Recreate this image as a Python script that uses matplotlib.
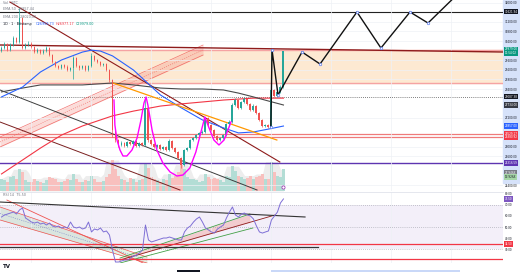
import numpy as np
import pandas as pd
import matplotlib
matplotlib.use("Agg")
import matplotlib.pyplot as plt
from matplotlib.patches import Rectangle
from matplotlib.transforms import blended_transform_factory

# ---- candles (BTC/USD, values) ----
closes = [30110, 30280, 30030, 30230, 30530, 30360, 31360, 30110, 30230, 30280,
          30150, 29940, 30030, 29900, 29980, 30110, 29820, 29530, 29360, 29280,
          29400, 29320, 29190, 29280, 29690, 29360, 29280, 29360, 29190, 29360,
          29780, 29610, 29530, 29400, 29440, 29190, 28780, 26690, 26280, 26070,
          26150, 26030, 26190, 26110, 26230, 26030, 26150, 26070, 27610, 26280,
          26110, 25980, 26070, 25900, 25980, 25860, 26230, 25940, 25780, 25530,
          25230, 25860, 25940, 26280, 26360, 26480, 26570, 26610, 27190, 26900,
          26690, 26440, 26280, 26360, 26480, 26940, 27030, 27730, 27940, 27610,
          27860, 27980, 27780, 27530, 27690, 27400, 27110, 26860, 26900, 26820,
          28360, 28110, 28280, 28480, 29979]
highs = [30200, 30350, 30330, 30300, 30600, 30580, 31780, 31420, 30300, 30380,
         30340, 30200, 30100, 30080, 30050, 30180, 30150, 29860, 29580, 29420,
         29460, 29450, 29380, 29330, 29780, 29720, 29400, 29420, 29400, 29400,
         29900, 29820, 29660, 29570, 29500, 29480, 29220, 28800, 26750, 26320,
         26220, 26200, 26250, 26240, 26290, 26260, 26200, 26190, 28070, 27650,
         26320, 26150, 26120, 26100, 26030, 26020, 26300, 26260, 25980, 25820,
         25560, 25920, 26000, 26330, 26420, 26530, 26620, 26680, 27250, 27230,
         26940, 26730, 26480, 26420, 26540, 27000, 27100, 27800, 28020, 27980,
         27920, 28050, 28010, 27820, 27760, 27720, 27440, 27150, 26960, 26950,
         30030, 28400, 28330, 28550, 30000]
lows = [29950, 30060, 29980, 29990, 30200, 30300, 30330, 30050, 30060, 30180,
        30100, 29880, 29900, 29850, 29860, 29950, 29780, 29480, 29300, 29220,
        29240, 29260, 29140, 29150, 28800, 29300, 29200, 29240, 29150, 29150,
        29330, 29560, 29480, 29350, 29360, 29150, 28700, 26400, 26200, 26000,
        26020, 25980, 25990, 26060, 26080, 25980, 25990, 26020, 26030, 26200,
        26050, 25930, 25940, 25850, 25860, 25800, 25820, 25900, 25720, 25480,
        25110, 25200, 25800, 25900, 26230, 26320, 26440, 26520, 26580, 26850,
        26640, 26400, 26230, 26240, 26320, 26450, 26900, 27000, 27700, 27560,
        27580, 27820, 27730, 27480, 27500, 27350, 27060, 26800, 26800, 26780,
        26800, 28050, 28080, 28250, 28450]
first_open = 30000
volume = [40, 35, 30, 45, 50, 38, 70, 60, 35, 30,
          28, 40, 32, 30, 25, 35, 45, 42, 38, 30,
          28, 32, 40, 35, 55, 38, 30, 28, 35, 33,
          50, 40, 30, 28, 32, 45, 55, 100, 70, 50,
          38, 35, 30, 42, 38, 30, 35, 40, 90, 75,
          45, 38, 35, 30, 40, 35, 55, 42, 48, 60,
          85, 70, 45, 40, 38, 35, 30, 33, 55, 45,
          40, 42, 38, 35, 30, 50, 45, 80, 65, 50,
          45, 40, 42, 50, 38, 45, 48, 55, 40, 38,
          95, 60, 50, 45, 70]
rsi = [59.1, 60.9, 61.8, 62.7, 63.6, 61.8, 65.5, 67.3, 58.2, 56.4,
       54.5, 53.6, 54.5, 52.7, 53.6, 51.8, 53.6, 50.9, 50.0, 50.9,
       49.1, 50.0, 49.1, 54.5, 50.0, 49.1, 50.0, 48.2, 49.1, 54.5,
       45.5, 48.2, 47.3, 49.1, 45.5, 46.4, 42.7, 29.1, 18.2, 18.2,
       19.1, 20.0, 20.0, 21.8, 23.6, 24.5, 26.4, 29.1, 51.8, 38.2,
       36.4, 37.3, 38.2, 39.1, 40.0, 40.0, 40.9, 40.0, 39.1, 38.2,
       38.2, 45.5, 49.1, 50.9, 54.5, 57.3, 59.1, 54.5, 49.1, 47.3,
       45.5, 44.5, 48.2, 50.0, 51.8, 58.2, 63.6, 68.2, 60.9, 59.1,
       61.8, 62.7, 60.9, 60.0, 57.3, 50.9, 45.5, 44.5, 45.5, 46.4,
       56.4, 60.0, 63.6, 71.8, 75.5]

# moving averages
blue_ma_idx = [0, 7, 13, 20, 27, 30, 33, 37, 44, 53, 60, 67, 74, 79, 84, 89, 94]
blue_ma_val = [28070, 28480, 29110, 29610, 29940, 30020, 29980, 29780, 29190, 28150,
               27610, 27110, 26780, 26570, 26610, 26730, 26857]
grey_ma_idx = [0, 7, 13, 27, 37, 44, 53, 60, 67, 74, 79, 84, 89, 94]
grey_ma_val = [28280, 28440, 28570, 28570, 28650, 28570, 28440, 28400, 28400, 28360,
               28230, 28070, 27900, 27734]
red_ma_idx = [0, 7, 13, 20, 27, 37, 44, 53, 60, 67, 74, 79, 84, 89, 94]
red_ma_val = [24860, 25440, 25940, 26480, 26860, 27280, 27480, 27690, 27780, 27860,
              27940, 27980, 28020, 28020, 28020]

# drawings on the price pane (bar index, price)
zone_top, zone_bottom = 30020, 28640
top_level = 31621.94
dotted_level = 28087.38
red_levels = [26529.17, 26380.92]
purple_level = 25316.59
resist_line = ([-0.5, 167.2], [30234, 29942])
desc_maroon = ([2.8, 92.8], [32026, 25358])
desc_grey = ([-0.5, 85.2], [28359, 24192])
desc_maroon2 = ([-0.5, 59.5], [27025, 24192])
channel_x = [-0.5, 67.2]
channel_upper = [26400, 30233]
channel_mid = [26192, 30025]
channel_lower = [25984, 29817]
orange_line = ([37.2, 91.8], [28650, 26275])
cup_idx = [37.5, 37.8, 38.5, 39.5, 40.5, 41.8, 43.5, 45.2, 46.5, 47.5, 48.2, 48.8,
           50.2, 51.8, 53.8, 56.2, 58.5, 60.5, 62.8, 64.8, 66.5, 67.8, 69.2, 70.8,
           72.5, 74.2, 75.5, 76.5]
cup_val = [27942, 26900, 26275, 25859, 25609, 25609, 25859, 26359, 27109, 27817, 28067, 27734,
           26692, 25859, 25317, 24942, 24775, 24817, 25109, 25775, 26609, 27234, 26775, 26275,
           26067, 26275, 26692, 27025]
zz_idx = [89.8, 90.2, 92.2, 100.2, 106.2, 118.5, 126.5, 136.2, 142.2, 152.8]
zz_val = [26817, 30025, 28150, 29942, 29442, 31609, 30109, 31609, 31150, 32442]

# drawings on the RSI pane
rsi_black = ([-0.5, 101.2], [72.7, 59.1])
rsi_red_level = 34.5
rsi_black_level = 31.8
rsi_black_level_end = 105.5
rsi_low_level = 20.9
rsi_steep = ([1.8, 47.2], [74.5, 17.3])
rsi_dch_x = [-0.5, 48.5]
rsi_dch_upper = [68.2, 22.7]
rsi_dch_lower = [56.4, 17.3]
rsi_uch_x = [39.5, 82.8]
rsi_uch_upper = [21.8, 61.8]
rsi_uch_red = ([39.5, 91.2], [20.0, 60.9])
rsi_uch_lower = ([39.5, 83.8], [17.3, 49.1])

# ---- figure ----
W, H = 520, 272
fig = plt.figure(figsize=(W / 100, H / 100), dpi=100)
fig.patch.set_facecolor("white")


def px_box(x0, y0, x1, y1):
    return [x0 / W, 1 - y1 / H, (x1 - x0) / W, (y1 - y0) / H]


XMIN, XMAX = -0.5, 167.2
n = len(closes)
idx = np.arange(n)
opens = [first_open] + closes[:-1]
up = np.array(closes) >= np.array(opens)
GREEN, RED = "#26a69a", "#ef5350"
fmt = matplotlib.ticker.FuncFormatter(lambda v, p: f"{v:.2f}")

# price tags shown on the scale (value, text, background, text colour)
price_tags = [(top_level, f"{top_level:.2f}", "#131722", "white"),
              (closes[-1], f"{closes[-1]:.2f}\n11:54:02", "#089981", "white"),
              (dotted_level, f"{dotted_level:.2f}", "#131722", "white"),
              (grey_ma_val[-1], f"{grey_ma_val[-1]:.2f}", "#363a45", "white"),
              (blue_ma_val[-1], f"{blue_ma_val[-1]:.2f}", "#2962ff", "white"),
              (red_levels[0], f"{red_levels[0]:.2f}", "#f23645", "white"),
              (red_levels[1], f"{red_levels[1]:.2f}", "#f23645", "white"),
              (purple_level, f"{purple_level:.2f}", "#5e35b1", "white"),
              (24920, "27.946K", "#787b86", "white"),
              (24740, "13.926K", "#a5d6a7", "#131722")]
rsi_tags = [(rsi[-1], f"{rsi[-1]:.2f}", "#7e57c2", "white"),
            (rsi_red_level, f"{rsi_red_level:.2f}", "#f23645", "white")]

# right price-scale strip
fig.patches.append(Rectangle((503 / W, 1 - 183 / H), 17 / W, 183 / H,
                             transform=fig.transFigure, color="#d6e2fa", zorder=-1))

# volume
ax_vol = fig.add_axes(px_box(0, 160, 503, 191), zorder=1)
vol_env = pd.Series(volume).rolling(5, center=True, min_periods=1).max()
ax_vol.fill_between(idx, vol_env, color="#d8d8d8", alpha=0.45, lw=0)
ax_vol.bar(idx, volume, width=0.8, color=np.where(up, "#b3ddd5", "#f8c0be"))
ax_vol.set_xlim(XMIN, XMAX)
ax_vol.set_ylim(0, 100)
ax_vol.axis("off")

# price pane
ax = fig.add_axes(px_box(0, 0, 503, 191), zorder=2)
ax.patch.set_visible(False)
ax.set_xlim(XMIN, XMAX)
ax.set_ylim(24150, 32109)
ax.set_xticks(np.arange(10, 170, 20))
ticks = [t for t in np.arange(24400, 32001, 400)
         if all(abs(t - v) > 190 for v, *_ in price_tags)]
ax.set_yticks(ticks)
ax.yaxis.tick_right()
ax.yaxis.set_major_formatter(fmt)
ax.tick_params(axis="y", length=0, pad=1.5, labelsize=2.0, labelcolor="#131722")
ax.tick_params(axis="x", length=0, labelbottom=False)
ax.grid(color="#eef1f6", lw=0.5)
for s in ax.spines.values():
    s.set_visible(False)

ax.axhspan(zone_bottom, zone_top, color="#fde9d2", zorder=0.5)
ax.axhline(zone_top, color="#f5a3a3", lw=1.0, zorder=1)
ax.axhline(zone_bottom, color="#f5a3a3", lw=1.0, zorder=1)
ax.axhline(top_level, color="#222222", lw=0.8, zorder=1)
ax.axhline(dotted_level, color="#555555", lw=0.6, ls=(0, (1, 1.5)), zorder=1)
for lv in red_levels:
    ax.axhline(lv, color="#ef7a7a", lw=0.9, zorder=1)
ax.axhline(purple_level, color="#5e35b1", lw=1.0, zorder=1)

ax.fill_between(channel_x, channel_lower, channel_upper, color="#f28b82", alpha=0.3, lw=0, zorder=1)
ax.plot(channel_x, channel_upper, color="#ef5350", lw=0.5, alpha=0.8, zorder=1)
ax.plot(channel_x, channel_lower, color="#ef5350", lw=0.5, alpha=0.8, zorder=1)
ax.plot(channel_x, channel_mid, color="#ef5350", lw=0.4, ls=(0, (2, 2)), alpha=0.8, zorder=1)

ax.plot(*resist_line, color="#8e1b1b", lw=1.0, zorder=2)
ax.plot(*desc_maroon, color="#8e1b1b", lw=0.8, zorder=2)
ax.plot(*desc_grey, color="#3d3d3d", lw=0.7, zorder=2)
ax.plot(*desc_maroon2, color="#7a1f1f", lw=0.7, zorder=2)

ax.plot(red_ma_idx, red_ma_val, color="#f23645", lw=0.8, zorder=2)
ax.plot(grey_ma_idx, grey_ma_val, color="#4a4a4a", lw=0.8, zorder=2)
ax.plot(blue_ma_idx, blue_ma_val, color="#2962ff", lw=0.8, zorder=2)
ax.plot(*orange_line, color="#ff9800", lw=0.9, zorder=2)

# candles
body_lo = np.minimum(opens, closes)
body_h = np.maximum(np.abs(np.array(closes) - np.array(opens)), 15)
colors = np.where(up, GREEN, RED)
ax.vlines(idx, lows, highs, colors=colors, lw=0.5, zorder=3)
ax.bar(idx, body_h, bottom=body_lo, width=0.65, color=colors, zorder=3)

ax.plot(cup_idx, cup_val, color="#ff00ff", lw=1.0, zorder=4)
ax.plot(zz_idx, zz_val, color="#111111", lw=1.0, zorder=5)
ax.plot(zz_idx[:-1], zz_val[:-1], "o", ms=1.8, mfc="white", mec="#5b7cf0", mew=0.5, zorder=6)
ax.plot(idx[-1], 24330, "o", ms=2.3, mfc="white", mec="#9c27b0", mew=0.5, zorder=6)

# RSI pane
ax_r = fig.add_axes(px_box(0, 192, 503, 263))
ax_r.set_xlim(XMIN, XMAX)
ax_r.set_ylim(17.3, 81.8)
ax_r.set_xticks(np.arange(10, 170, 20))
ax_r.set_yticks([t for t in [30, 40, 50, 60, 70, 80]
                 if all(abs(t - v) > 3.5 for v, *_ in rsi_tags)])
ax_r.yaxis.tick_right()
ax_r.yaxis.set_major_formatter(fmt)
ax_r.tick_params(axis="y", length=0, pad=1.5, labelsize=2.0, labelcolor="#131722")
ax_r.tick_params(axis="x", length=0, labelbottom=False)
ax_r.grid(axis="x", color="#eef1f6", lw=0.5)
for s in ax_r.spines.values():
    s.set_visible(False)
ax_r.spines["top"].set_visible(True)
ax_r.spines["top"].set_color("#e0e3eb")
ax_r.spines["top"].set_linewidth(0.6)

ax_r.axhspan(30, 70, color="#7e57c2", alpha=0.09, lw=0)
for lv in (70, 50, 30):
    ax_r.axhline(lv, color="#9598a1", lw=0.5, ls=(0, (1, 2)))

ax_r.fill_between(rsi_dch_x, rsi_dch_lower, rsi_dch_upper, color="#4caf50", alpha=0.15, lw=0)
ax_r.plot(rsi_dch_x, rsi_dch_upper, color="#ef5350", lw=0.5)
ax_r.plot(rsi_dch_x, rsi_dch_lower, color="#ef5350", lw=0.5)
ax_r.plot(rsi_dch_x, np.mean([rsi_dch_upper, rsi_dch_lower], axis=0), color="#7986cb",
          lw=0.4, ls=(0, (2, 2)))
ax_r.plot(*rsi_steep, color="#ef5350", lw=0.6)

ax_r.fill_between(rsi_uch_x, np.interp(rsi_uch_x, *rsi_uch_red), rsi_uch_upper,
                  color="#f28b82", alpha=0.35, lw=0)
ax_r.plot(rsi_uch_x, rsi_uch_upper, color="#43a047", lw=0.6)
ax_r.plot(*rsi_uch_red, color="#8e1b1b", lw=0.6)
ax_r.plot(*rsi_uch_lower, color="#43a047", lw=0.6)

ax_r.plot(*rsi_black, color="#333333", lw=0.8)
ax_r.axhline(rsi_red_level, color="#f23645", lw=0.9)
ax_r.plot([XMIN, rsi_black_level_end], [rsi_black_level] * 2, color="#333333", lw=0.9)
ax_r.axhline(rsi_low_level, color="#f23645", lw=0.9)
ax_r.plot(idx, rsi, color="#7e6fd6", lw=0.7, zorder=5)

# bottom time strip
ax_t = fig.add_axes(px_box(0, 263, 503, 272))
ax_t.set_xlim(XMIN, XMAX)
ax_t.set_ylim(0, 1)
ax_t.axis("off")
ax_t.axvspan(min(zz_idx), max(zz_idx), ymin=0, ymax=0.25, color="#c9d8f8", lw=0)
ax_t.axvspan(58.5, 66.2, ymin=0, ymax=0.25, color="#131722", lw=0)
fig.text(3 / W, 1 - 267 / H, "TV", fontsize=4, fontweight="bold", color="#131722", va="center")


# coloured price-scale tags
def axis_tag(axis, y, text, bg, fg="white"):
    tr = blended_transform_factory(fig.transFigure, axis.transData)
    fig.text(504.5 / W, y, text, transform=tr, fontsize=2.0, color=fg, va="center", ha="left",
             linespacing=0.9, bbox=dict(boxstyle="square,pad=0.25", fc=bg, ec="none"), zorder=10)


for v, txt, bg, fg in price_tags:
    axis_tag(ax, v, txt, bg, fg)
for v, txt, bg, fg in rsi_tags:
    axis_tag(ax_r, v, txt, bg, fg)

# legends
leg = dict(fontsize=2.4, color="#787b86", va="center")
fig.text(3 / W, 1 - 3 / H, "Vol · BTC", **leg)
fig.text(3 / W, 1 - 9 / H, "EMA 50  26857.44", **leg)
fig.text(3 / W, 1 - 17 / H, "EMA 200  28020.00", **leg)
fig.text(3 / W, 1 - 24 / H, "1D · 1 · Bitstamp", fontsize=2.4, color="#131722", va="center")
fig.text(36 / W, 1 - 24 / H, "O26959.73", fontsize=2.4, color="#2962ff", va="center")
fig.text(56 / W, 1 - 24 / H, "H26977.17", fontsize=2.4, color="#f23645", va="center")
fig.text(76 / W, 1 - 24 / H, "C29979.00", fontsize=2.4, color="#089981", va="center")
fig.text(3 / W, 1 - 195 / H, "RSI 14  75.50", **leg)

fig.savefig("out.png", dpi=100)
